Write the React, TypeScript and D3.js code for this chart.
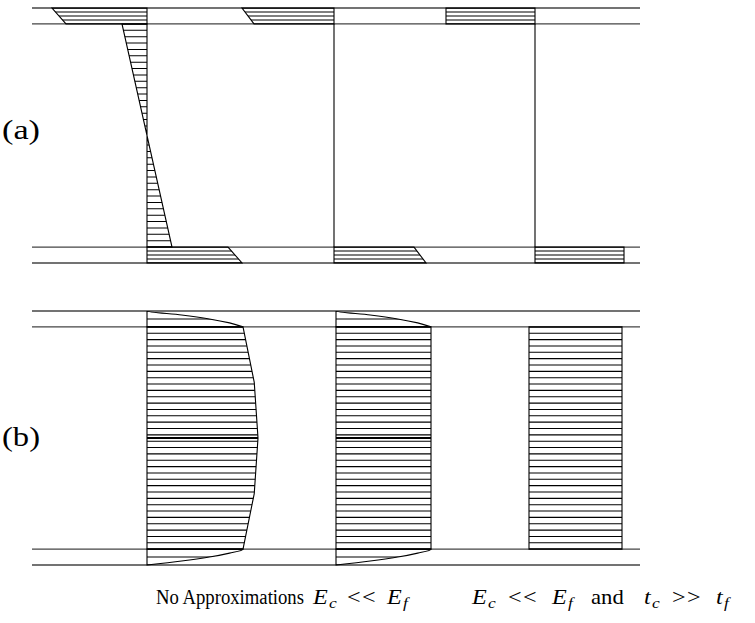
import React from "react";
import * as d3 from "d3";

// ---- data ----
const columns = ["No Approximations", "Ec<<Ef", "Ec<<Ef and tc>>tf"];
const faceThickness = 1;
const coreThickness = 14;

// Panel (a): normal (bending) stress magnitudes
const faceOuterStressA = [95, 92, 89];
const faceInnerStressA = [81, 80, 89];
const coreEdgeStressA = [25, 0, 0];

// Panel (b): shear stress
const faceInterfaceShearB = [96, 95, 0];
const coreEdgeShearB = [96, 95, 93];
const coreMaxShearB = [111, 95, 93];

// shape of shear profiles (fractions)
const faceProfileDepth = [0, 0.25, 0.5, 0.75, 1];
const faceProfileShear = [0, 0.36, 0.65, 0.86, 1];
const coreProfileDepth = [0, 0.25, 0.5, 0.75, 1];
const coreProfileExcess = [0, 0.75, 1, 0.75, 0];

const panelLabels = ["(a)", "(b)"];

// label pieces: [text, italic, subscript]
const label2Pieces: [string, boolean, boolean][] = [
  ["E", true, false], ["c", true, true], ["<", false, false], ["<", false, false],
  ["E", true, false], ["f", true, true],
];
const label3Pieces: [string, boolean, boolean][] = [
  ["E", true, false], ["c", true, true], ["<", false, false], ["<", false, false],
  ["E", true, false], ["f", true, true], ["and", false, false],
  ["t", true, false], ["c", true, true], [">", false, false], [">", false, false],
  ["t", true, false], ["f", true, true],
];

type Pt = [number, number]; // [stress, depth]

const W = 755;
const H = 623;

function Region({ id, pts, curve, xs, ys, base, nLines, y0, y1, thick }: any) {
  const line = d3
    .line<Pt>()
    .x((d) => base + xs(d[0]))
    .y((d) => ys(d[1]))
    .curve(curve || d3.curveLinear);
  const path = line(pts) + "Z";
  const hatch = d3.range(nLines + 1).map((i) => y0 + ((y1 - y0) * i) / nLines);
  return (
    <g>
      <clipPath id={id}>
        <path d={path} />
      </clipPath>
      <g clipPath={`url(#${id})`}>
        {hatch.map((d, i) => (
          <line key={i} x1={base - 140} x2={base + 140} y1={ys(d)} y2={ys(d)} stroke="#000" strokeWidth={1.1} />
        ))}
        {thick !== undefined && (
          <line x1={base - 140} x2={base + 140} y1={ys(thick)} y2={ys(thick)} stroke="#000" strokeWidth={2.2} />
        )}
      </g>
      <path d={path} fill="none" stroke="#000" strokeWidth={1.1} />
    </g>
  );
}

function MathLabel({ x, y, pieces, offsets, size, sx }: any) {
  return (
    <g>
      {pieces.map((p: [string, boolean, boolean], i: number) => {
        const word = p[0].length > 1;
        return (
          <text
            key={i}
            transform={`translate(${x + offsets[i]},${p[2] ? y + 4 : y}) scale(${word ? 1.08 : sx},1)`}
            fontSize={p[2] ? size * 0.72 : size}
            fontStyle={p[1] ? "italic" : "normal"}
          >
            {p[0]}
          </text>
        );
      })}
    </g>
  );
}

export default function App() {
  const total = 2 * faceThickness + coreThickness;
  const yA = d3.scaleLinear().domain([0, total]).range([8, 263]);
  const yB = d3.scaleLinear().domain([0, total]).range([311, 565]);
  const xs = d3.scaleLinear().domain([0, 100]).range([0, 100]);
  const baseA = d3.scaleOrdinal<string, number>().domain(columns).range([147, 334, 535]);
  const baseB = d3.scaleOrdinal<string, number>().domain(columns).range([147, 336, 529]);
  const tf = faceThickness;
  const bot = tf + coreThickness;

  const refLines = (ys: any) =>
    [0, tf, bot, total].map((d, i) => (
      <line key={i} x1={32} x2={640} y1={ys(d)} y2={ys(d)} stroke="#444" strokeWidth={1.3} />
    ));

  const panelA = columns.map((c, i) => {
    const b = baseA(c);
    const o = faceOuterStressA[i];
    const n = faceInnerStressA[i];
    const k = coreEdgeStressA[i];
    const top: Pt[] = [[0, 0], [-o, 0], [-n, tf], [0, tf]];
    const core: Pt[] = [[0, tf], [-k, tf], [k, bot], [0, bot]];
    const bottom: Pt[] = [[0, bot], [n, bot], [o, total], [0, total]];
    return (
      <g key={c}>
        <Region id={`a${i}t`} pts={top} xs={xs} ys={yA} base={b} nLines={4} y0={0} y1={tf} />
        <Region id={`a${i}c`} pts={core} xs={xs} ys={yA} base={b} nLines={35} y0={tf} y1={bot} />
        <Region id={`a${i}b`} pts={bottom} xs={xs} ys={yA} base={b} nLines={4} y0={bot} y1={total} />
      </g>
    );
  });

  const panelB = columns.map((c, i) => {
    const b = baseB(c);
    const fi = faceInterfaceShearB[i];
    const ce = coreEdgeShearB[i];
    const cm = coreMaxShearB[i];
    const topEdge: Pt[] = faceProfileDepth.map((d, j) => [fi * faceProfileShear[j], d * tf]);
    const botEdge: Pt[] = faceProfileDepth.map((d, j) => [fi * faceProfileShear[j], total - d * tf]);
    const coreEdge: Pt[] = coreProfileDepth.map((d, j) => [ce + (cm - ce) * coreProfileExcess[j], tf + d * coreThickness]);
    const top: Pt[] = [[0, tf], ...topEdge];
    const bottom: Pt[] = [[0, bot], ...botEdge.slice().reverse(), [0, total]];
    const core: Pt[] = [[0, tf], ...coreEdge, [0, bot]];
    const mid = total / 2;
    return (
      <g key={c}>
        {fi > 0 && (
          <Region id={`b${i}t`} pts={top} curve={d3.curveMonotoneY} xs={xs} ys={yB} base={b} nLines={2} y0={0} y1={tf} />
        )}
        <Region id={`b${i}c`} pts={core} xs={xs} ys={yB} base={b} nLines={35} y0={tf} y1={bot} thick={fi > 0 ? mid : undefined} />
        {fi > 0 && (
          <Region id={`b${i}b`} pts={bottom} curve={d3.curveMonotoneY} xs={xs} ys={yB} base={b} nLines={2} y0={bot} y1={total} />
        )}
      </g>
    );
  });

  const font = "'Liberation Serif', 'DejaVu Serif', serif";

  return (
    <svg width={W} height={H} style={{ position: "absolute", left: 0, top: 0, background: "#fff" }} fontFamily={font}>
      <rect width={W} height={H} fill="#fff" />
      {refLines(yA)}
      {refLines(yB)}
      {panelA}
      {panelB}
      <text x={2} y={139} fontSize={27} textLength={38} lengthAdjust="spacingAndGlyphs">{panelLabels[0]}</text>
      <text x={2} y={446} fontSize={27} textLength={38} lengthAdjust="spacingAndGlyphs">{panelLabels[1]}</text>
      <text x={156} y={604} fontSize={20} textLength={148} lengthAdjust="spacingAndGlyphs">No Approximations</text>
      <MathLabel x={313} y={604} size={21} sx={1.15} pieces={label2Pieces} offsets={[0, 16, 34, 49, 74, 90]} />
      <MathLabel
        x={472}
        y={604}
        size={21}
        sx={1.15}
        pieces={label3Pieces}
        offsets={[0, 16, 36, 51, 80, 96, 119, 172, 180, 200, 215, 244, 252]}
      />
    </svg>
  );
}
